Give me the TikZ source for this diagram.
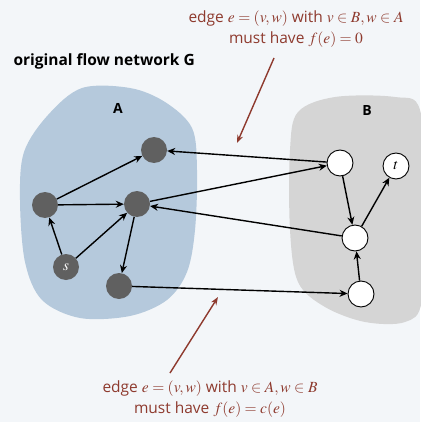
\documentclass[tikz,border=0pt]{standalone}
\usepackage{mathptmx}
\usepackage{fontspec}
\setsansfont{Open Sans}
\usetikzlibrary{positioning,arrows.meta}

\definecolor{bgcol}{HTML}{F3F6F9}
\definecolor{blobA}{HTML}{B5C9DC}
\definecolor{blobB}{HTML}{D5D5D5}
\definecolor{vtx}{HTML}{606060}
\definecolor{note}{HTML}{8E3A2E}

\tikzset{
  full/.style={circle, fill=vtx, minimum size=26pt, inner sep=0pt, font=\fontsize{15}{17}\selectfont},
  empty/.style={circle, draw=black, line width=0.9pt, fill=white, minimum size=26pt, inner sep=0pt, font=\fontsize{15}{17}\selectfont},
  edge/.style={line width=1.4pt, -{Stealth[length=8pt,width=7pt]}},
  notearrow/.style={draw=note, line width=1.4pt, -{Stealth[length=8pt,width=6pt]}},
  notetext/.style={text=note, font=\sffamily\fontsize{15.5}{21}\selectfont, align=center},
  setlabel/.style={font=\sffamily\bfseries\fontsize{14}{16}\selectfont}
}

\begin{document}
\begin{tikzpicture}[x=1pt,y=-1pt]
    \fill[bgcol] (0,0) rectangle (420,422);
    \useasboundingbox (0,0) rectangle (420,422);
    % the two sides of the cut
    \fill[blobA] plot[smooth cycle, tension=0.55] coordinates {(82,88) (130,88) (165,102) (192,128)
      (197,170) (195,230) (187,272) (167,300) (130,316) (80,318) (42,300) (25,262)
      (20,200) (24,152) (48,115)};
    \fill[blobB] plot[smooth cycle, tension=0.55] coordinates {(298,112) (335,97) (395,97) (420,110)
      (426,200) (422,300) (405,322) (365,322) (325,307) (298,282) (290,230) (290,150)};
    \node[setlabel] (labA) at (118,108) {A};
    \node[setlabel] (labB) at (367,111) {B};
    \node[font=\sffamily\bfseries\fontsize{15.5}{18}\selectfont, anchor=west] (title) at (10,61) {original flow network G};
    % vertices in A
    \node[full] (a1) at (154,150) {};
    \node[full] (a2) at (45,205) {};
    \node[full] (a3) at (137,204) {};
    \node[full] (s) at (66,267) {\textcolor{white}{$s$}};
    \node[full] (a4) at (119,286) {};
    % vertices in B
    \node[empty] (b1) at (340,163) {};
    \node[empty] (t) at (396,166) {$t$};
    \node[empty] (b2) at (355,238) {};
    \node[empty] (b3) at (361,294) {};
    % edges
    \draw[edge] (a2) -- (a1);
    \draw[edge] (a2) -- (a3);
    \draw[edge] (s) -- (a2);
    \draw[edge] (s) -- (a3);
    \draw[edge] (a3) -- (a4);
    \draw[edge] (b1) -- (a1);
    \draw[edge] (a3) -- (b1);
    \draw[edge] (b2) -- (a3);
    \draw[edge] (a4) -- (b3);
    \draw[edge] (b1) -- (b2);
    \draw[edge] (b2) -- (t);
    \draw[edge] (b3) -- (b2);
    % notes
    \node[notetext] (topnote) at (296,29) {edge $e = (v, w)$ with $v \in B, w \in A$\\must have $f(e) = 0$};
    \node[notetext] (botnote) at (210,399) {edge $e = (v, w)$ with $v \in A, w \in B$\\must have $f(e) = c(e)$};
    \coordinate (topfrom) at (274,58);
    \coordinate (topto) at (237,143);
    \coordinate (botfrom) at (170,373);
    \coordinate (botto) at (218,297);
    \draw[notearrow] (topfrom) -- (topto);
    \draw[notearrow] (botfrom) -- (botto);
\end{tikzpicture}
\end{document}
